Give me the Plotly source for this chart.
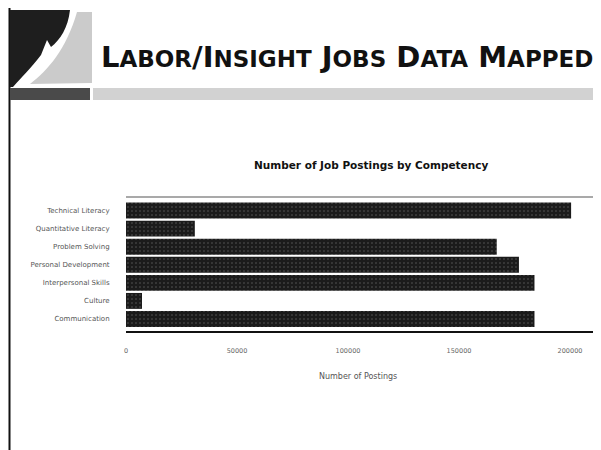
import plotly.graph_objects as go

# ---- data ----
categories = ["Technical Literacy", "Quantitative Literacy", "Problem Solving",
              "Personal Development", "Interpersonal Skills", "Culture", "Communication"]
postings = [200500, 31000, 167000, 177000, 184000, 7200, 184000]
x_ticks = [0, 50000, 100000, 150000, 200000]
x_tick_labels = ["0", "50000", "100000", "150000", "200000"]

W, H = 601, 450
OFF = 8  # page body margin offset
L, R, T, B = 126 - OFF, 593 - OFF, 197 - OFF, 332 - OFF   # plot area in figure pixels


def px(x):
    return (x - OFF - L) / (R - L)


def py(y):
    return (B - (y - OFF)) / (B - T)


def path(cmds):
    out = []
    for c in cmds:
        if isinstance(c, str):
            out.append(c)
        else:
            out.append("{},{}".format(px(c[0]), py(c[1])))
    return " ".join(out)


fig = go.Figure()
fig.add_trace(go.Bar(
    x=postings, y=categories, orientation="h",
    marker=dict(color="#1b1b1b", line=dict(width=0),
                pattern=dict(shape=".", fgcolor="#9a9a9a", bgcolor="#1b1b1b",
                             size=4, solidity=0.12)),
    showlegend=False,
))

shapes = []
# left border line
shapes.append(dict(type="line", xref="paper", yref="paper",
                   x0=px(9.5), x1=px(9.5), y0=py(8), y1=py(460),
                   line=dict(color="#111", width=2)))
# top border line
shapes.append(dict(type="line", xref="paper", yref="paper",
                   x0=px(90), x1=px(610), y0=py(4), y1=py(4),
                   line=dict(color="#222", width=1.5)))
# logo: light gray flame
shapes.append(dict(type="path", xref="paper", yref="paper",
                   path=path(["M", (77, 12), "L", (92, 12), "L", (92, 83), "L", (30, 84),
                              "C", (48, 70), (66, 50), (77, 12), "Z"]),
                   fillcolor="#cbcbcb", line=dict(width=0)))
# logo: dark flame
shapes.append(dict(type="path", xref="paper", yref="paper",
                   path=path(["M", (10, 10), "L", (70, 10),
                              "C", (68, 28), (60, 40), (51, 47),
                              "L", (47, 40), "L", (41, 55),
                              "C", (31, 68), (21, 78), (13, 87),
                              "L", (10, 87), "Z"]),
                   fillcolor="#1e1e1e", line=dict(width=0)))
# logo bottom band
shapes.append(dict(type="rect", xref="paper", yref="paper",
                   x0=px(10), x1=px(90), y0=py(100), y1=py(88),
                   fillcolor="#4a4a4a", line=dict(width=0)))
# header gray band
shapes.append(dict(type="rect", xref="paper", yref="paper",
                   x0=px(93), x1=px(610), y0=py(100), y1=py(88),
                   fillcolor="#d2d2d2", line=dict(width=0)))
# plot frame lines (top and bottom)
shapes.append(dict(type="line", xref="paper", yref="paper",
                   x0=0, x1=1, y0=1, y1=1, line=dict(color="#555", width=1.2)))
shapes.append(dict(type="line", xref="paper", yref="paper",
                   x0=0, x1=1, y0=0, y1=0, line=dict(color="#111", width=2)))

sc = "font-size:23px"
header = ("<b>L<span style='{0}'>ABOR</span>/I<span style='{0}'>NSIGHT</span> "
          "J<span style='{0}'>OBS</span> D<span style='{0}'>ATA</span> "
          "M<span style='{0}'>APPED</span></b>").format(sc)

annotations = [
    dict(text=header, xref="paper", yref="paper", x=px(99), y=py(57),
         xanchor="left", yanchor="middle", showarrow=False,
         font=dict(family="DejaVu Sans", size=29, color="#111")),
    dict(text="<b>Number of Job Postings by Competency</b>", xref="paper", yref="paper",
         x=px(371), y=py(165), xanchor="center", yanchor="middle", showarrow=False,
         font=dict(family="DejaVu Sans", size=10.5, color="#111")),
    dict(text="Number of Postings", xref="paper", yref="paper",
         x=px(358), y=py(376), xanchor="center", yanchor="middle", showarrow=False,
         font=dict(family="DejaVu Sans", size=8, color="#555")),
]

fig.update_layout(
    width=W, height=H,
    margin=dict(l=L, r=W - R, t=T, b=H - B, pad=0),
    paper_bgcolor="white", plot_bgcolor="white",
    bargap=0.12,
    shapes=shapes, annotations=annotations,
    xaxis=dict(range=[0, 210360], tickvals=x_ticks, ticktext=x_tick_labels,
               showgrid=False, zeroline=False, showline=False,
               ticks="outside", ticklen=12, tickcolor="rgba(0,0,0,0)",
               tickfont=dict(family="DejaVu Sans", size=6.5, color="#666")),
    yaxis=dict(range=[6.72, -0.75], showgrid=False, zeroline=False, showline=False,
               ticks="outside", ticklen=14, tickcolor="rgba(0,0,0,0)",
               tickfont=dict(family="DejaVu Sans", size=7, color="#555")),
)

fig.write_html("out.html")
